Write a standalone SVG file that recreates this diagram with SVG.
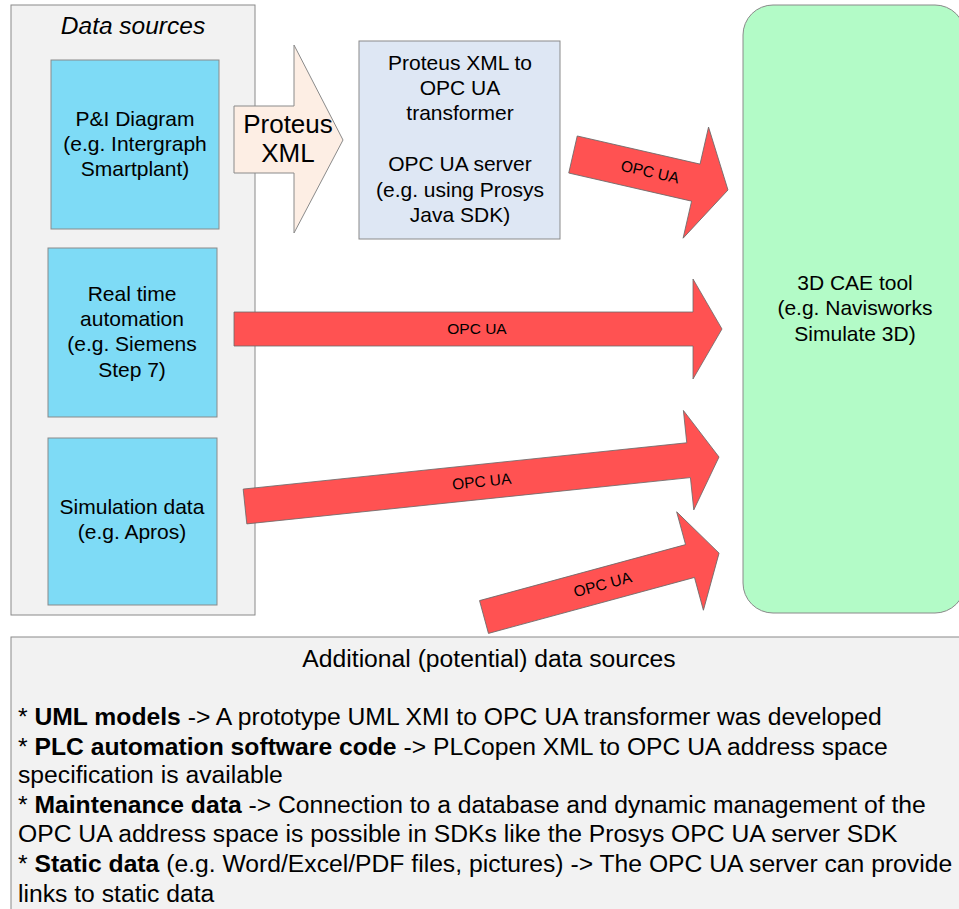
<svg xmlns="http://www.w3.org/2000/svg" width="959" height="909" viewBox="0 0 959 909">
<style>
text{font-family:"Liberation Sans",Arial,sans-serif;fill:#000}
.box{stroke:#8a8a8a;stroke-width:1}
.src{fill:#7edbf6}
.t20{font-size:21px;text-anchor:middle}
.arr{fill:#ff5252;stroke:#6a6a6a;stroke-width:0.8}
.lbl{font-size:15.5px;text-anchor:middle}
.bt{font-size:24.7px}
</style>
<rect width="959" height="909" fill="#fff"/>
<g id="data-sources">
<rect class="box" x="11" y="5" width="244" height="610" fill="#f2f2f2"/>
<text x="133" y="34" font-size="24.5" font-style="italic" text-anchor="middle">Data sources</text>
</g>
<g id="pi-diagram">
<rect class="box src" x="51" y="60" width="168" height="169"/>
<text class="t20" x="135" y="126">P&amp;I Diagram</text>
<text class="t20" x="135" y="151">(e.g. Intergraph</text>
<text class="t20" x="135" y="176">Smartplant)</text>
</g>
<g id="real-time">
<rect class="box src" x="48" y="248" width="169" height="169"/>
<text class="t20" x="132" y="301">Real time</text>
<text class="t20" x="132" y="326">automation</text>
<text class="t20" x="132" y="351">(e.g. Siemens</text>
<text class="t20" x="132" y="377">Step 7)</text>
</g>
<g id="simulation">
<rect class="box src" x="48" y="438" width="169" height="167"/>
<text class="t20" x="132" y="514">Simulation data</text>
<text class="t20" x="132" y="539">(e.g. Apros)</text>
</g>
<g id="transformer">
<rect class="box" x="359" y="41" width="201" height="198" fill="#dee7f4"/>
<text class="t20" x="460" y="70">Proteus XML to</text>
<text class="t20" x="460" y="95">OPC UA</text>
<text class="t20" x="460" y="120">transformer</text>
<text class="t20" x="460" y="171">OPC UA server</text>
<text class="t20" x="460" y="197">(e.g. using Prosys</text>
<text class="t20" x="460" y="222">Java SDK)</text>
</g>
<g id="cae-tool">
<rect class="box" x="743" y="5" width="222" height="608" rx="30" ry="30" fill="#b3fbc7"/>
<text class="t20" x="855" y="290">3D CAE tool</text>
<text class="t20" x="855" y="315">(e.g. Navisworks</text>
<text class="t20" x="855" y="341">Simulate 3D)</text>
</g>
<g id="additional">
<rect class="box" x="11" y="637" width="960" height="300" fill="#f2f2f2"/>
<text class="bt" x="489" y="667" text-anchor="middle">Additional (potential) data sources</text>
<text class="bt" x="18" y="725">* <tspan font-weight="bold">UML models</tspan> -&gt; A prototype UML XMI to OPC UA transformer was developed</text>
<text class="bt" x="18" y="755">* <tspan font-weight="bold">PLC automation software code</tspan> -&gt; PLCopen XML to OPC UA address space</text>
<text class="bt" x="18" y="783">specification is available</text>
<text class="bt" x="18" y="813">* <tspan font-weight="bold">Maintenance data</tspan> -&gt; Connection to a database and dynamic management of the</text>
<text class="bt" x="18" y="842">OPC UA address space is possible in SDKs like the Prosys OPC UA server SDK</text>
<text class="bt" x="18" y="872">* <tspan font-weight="bold">Static data</tspan> (e.g. Word/Excel/PDF files, pictures) -&gt; The OPC UA server can provide</text>
<text class="bt" x="18" y="902">links to static data</text>
</g>
<g id="connectors">
<g id="proteus-arrow">
<polygon points="234,106 294,106 294,45 343,140 294,233 294,173 234,173" fill="#fdeee4" stroke="#8a8a8a" stroke-width="1"/>
<text x="288" y="133" font-size="26" text-anchor="middle">Proteus</text>
<text x="288" y="162" font-size="26" text-anchor="middle">XML</text>
</g>
<g id="opc1" transform="translate(573,154.5) rotate(12.9)">
<polygon class="arr" points="0,-19 126,-19 126,-57 159,0 126,57 126,19 0,19"/>
<text class="lbl" x="79" y="5">OPC UA</text>
</g>
<g id="opc2" transform="translate(234,329)">
<polygon class="arr" points="0,-17 459,-17 459,-50 488,0 459,50 459,17 0,17"/>
<text class="lbl" x="243" y="5">OPC UA</text>
</g>
<g id="opc3" transform="translate(245,506.5) rotate(-5.96)">
<polygon class="arr" points="0,-17.5 446,-17.5 446,-50 476.6,0 446,50 446,17.5 0,17.5"/>
<text class="lbl" x="238" y="5">OPC UA</text>
</g>
<g id="opc4" transform="translate(484,617) rotate(-15.2)">
<polygon class="arr" points="0,-17 213.5,-17 213.5,-51 243.6,0 213.5,51 213.5,17 0,17"/>
<text class="lbl" x="123" y="5">OPC UA</text>
</g>
</g>
</svg>
